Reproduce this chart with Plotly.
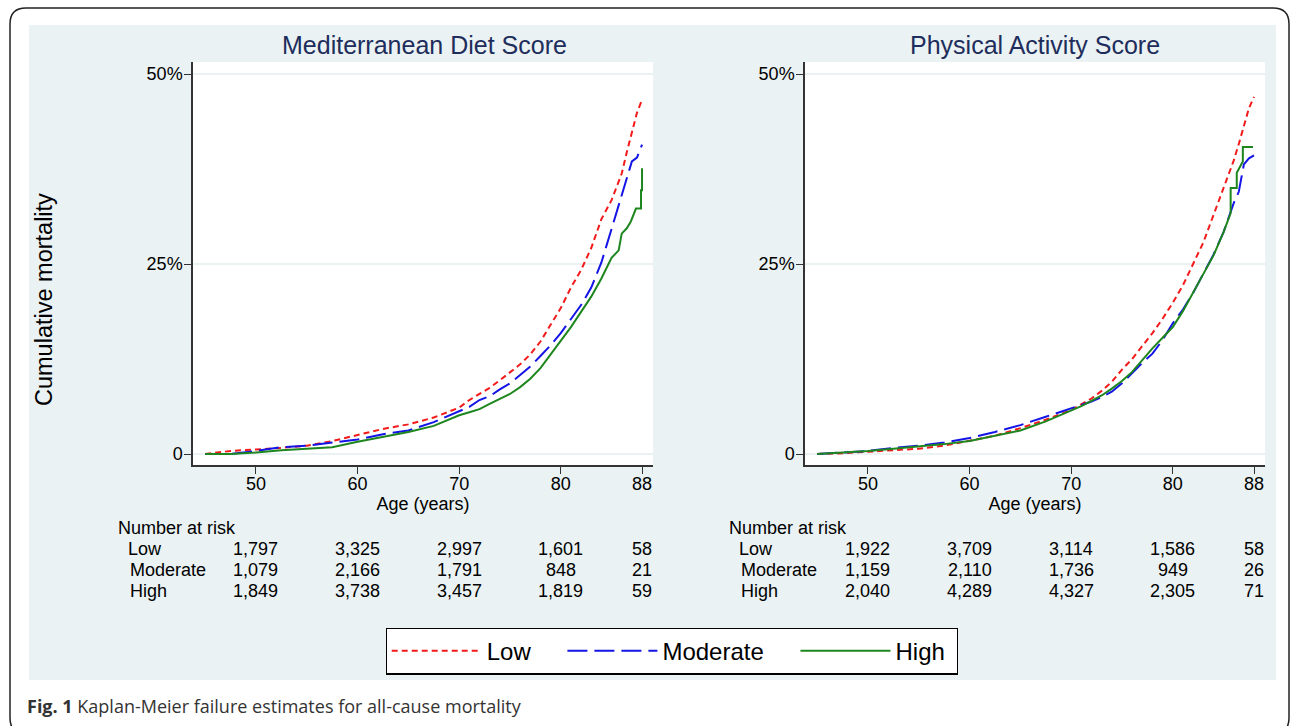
import plotly.graph_objects as go

W, H = 1292, 726

# ---------------- data ----------------
series_names = ["Low", "Moderate", "High"]
series_colors = ["#F21A1A", "#1414E6", "#1E861E"]
series_dash = ["6px,4px", "20px,7px", "solid"]

# Mediterranean Diet Score
med_low_age = [45, 47.5, 50, 52.5, 55, 57.5, 60, 62.5, 65, 67.5, 70, 71, 72, 73, 74, 75, 76, 77, 78, 79, 80, 81, 82, 83, 84, 85, 86, 86.5, 87, 87.5, 88]
med_low_val = [0, 0.004, 0.006, 0.008, 0.011, 0.017, 0.025, 0.033, 0.039, 0.048, 0.061, 0.071, 0.079, 0.087, 0.097, 0.107, 0.118, 0.131, 0.148, 0.170, 0.192, 0.219, 0.242, 0.271, 0.309, 0.334, 0.369, 0.397, 0.425, 0.449, 0.466]

med_mod_age = [45, 47.5, 50, 52.5, 55, 57.5, 60, 62.5, 65, 67.5, 70, 71, 72, 73, 74, 75, 76, 77, 78, 79, 80, 81, 82, 83, 84, 85, 86, 86.5, 87, 87.5, 88]
med_mod_val = [0, 0.0, 0.004, 0.009, 0.011, 0.015, 0.019, 0.026, 0.031, 0.042, 0.056, 0.062, 0.071, 0.076, 0.085, 0.093, 0.104, 0.115, 0.129, 0.143, 0.159, 0.177, 0.196, 0.219, 0.252, 0.296, 0.340, 0.362, 0.385, 0.390, 0.407]

med_high_age = [45, 47.5, 50, 52.5, 55, 57.5, 60, 62.5, 65, 67.5, 70, 71, 72, 73, 74, 75, 76, 77, 78, 79, 80, 81, 82, 83, 84, 85, 85.7, 86, 86.5, 86.9, 87.4, 87.9, 87.9, 88, 88]
med_high_val = [0, 0, 0.002, 0.005, 0.007, 0.009, 0.016, 0.022, 0.029, 0.037, 0.051, 0.055, 0.059, 0.066, 0.072, 0.079, 0.088, 0.099, 0.113, 0.131, 0.148, 0.167, 0.187, 0.207, 0.231, 0.258, 0.268, 0.290, 0.297, 0.306, 0.323, 0.323, 0.347, 0.347, 0.376]

# Physical Activity Score
pa_low_age = [45, 47.5, 50, 52.5, 55, 57.5, 60, 62.5, 65, 67.5, 70, 71, 72, 73, 74, 75, 76, 77, 78, 79, 80, 81, 82, 83, 84, 85, 86, 86.5, 87, 87.5, 88]
pa_low_val = [0, 0.001, 0.003, 0.005, 0.007, 0.011, 0.017, 0.024, 0.034, 0.045, 0.058, 0.065, 0.073, 0.083, 0.095, 0.111, 0.125, 0.142, 0.159, 0.178, 0.199, 0.222, 0.251, 0.278, 0.314, 0.350, 0.386, 0.408, 0.432, 0.455, 0.470]

pa_mod_age = [45, 47.5, 50, 52.5, 55, 57.5, 60, 62.5, 65, 67.5, 70, 71, 72, 73, 74, 75, 76, 77, 78, 79, 80, 81, 82, 83, 84, 85, 86, 86.5, 87, 87.5, 88]
pa_mod_val = [0, 0.002, 0.004, 0.008, 0.011, 0.015, 0.021, 0.029, 0.038, 0.049, 0.060, 0.064, 0.069, 0.075, 0.082, 0.093, 0.107, 0.120, 0.132, 0.150, 0.172, 0.190, 0.212, 0.237, 0.262, 0.292, 0.330, 0.345, 0.381, 0.389, 0.393]

pa_high_age = [45, 47.5, 50, 52.5, 55, 57.5, 60, 62.5, 65, 67.5, 70, 71, 72, 73, 74, 75, 76, 77, 78, 79, 80, 81, 82, 83, 84, 85, 85.7, 85.7, 86.3, 86.3, 86.9, 86.9, 87.9]
pa_high_val = [0, 0.002, 0.004, 0.007, 0.010, 0.013, 0.017, 0.024, 0.031, 0.043, 0.057, 0.063, 0.070, 0.077, 0.086, 0.096, 0.108, 0.124, 0.139, 0.153, 0.167, 0.188, 0.212, 0.236, 0.261, 0.292, 0.317, 0.350, 0.350, 0.370, 0.385, 0.404, 0.404]

# Number at risk table
risk_ages = [50, 60, 70, 80, 88]
med_risk_low = [1797, 3325, 2997, 1601, 58]
med_risk_mod = [1079, 2166, 1791, 848, 21]
med_risk_high = [1849, 3738, 3457, 1819, 59]
pa_risk_low = [1922, 3709, 3114, 1586, 58]
pa_risk_mod = [1159, 2110, 1736, 949, 26]
pa_risk_high = [2040, 4289, 4327, 2305, 71]

panel_titles = ["Mediterranean Diet Score", "Physical Activity Score"]
x_ticks = [50, 60, 70, 80, 88]
y_ticks = [0, 0.25, 0.5]
y_ticktext = ["0", "25%", "50%"]
caption_bold = "Fig. 1"
caption_text = "Kaplan-Meier failure estimates for all-cause mortality"

# ---------------- helpers ----------------
def fx(p):
    return p / W

def fy(p):
    return 1 - p / H

FONT = "Arial, Liberation Sans, sans-serif"
PANEL = "#EAF2F3"
NAVY = "#1E2D5C"
NBSP = "\u00a0"
legend_pad = [NBSP * 4, NBSP * 4, NBSP]

fig = go.Figure()

panels = [
    dict(xa="x", ya="y", data=[(med_low_age, med_low_val), (med_mod_age, med_mod_val), (med_high_age, med_high_val)],
         risk=[med_risk_low, med_risk_mod, med_risk_high]),
    dict(xa="x2", ya="y2", data=[(pa_low_age, pa_low_val), (pa_mod_age, pa_mod_val), (pa_high_age, pa_high_val)],
         risk=[pa_risk_low, pa_risk_mod, pa_risk_high]),
]

for pi, p in enumerate(panels):
    for si, (ages, vals) in enumerate(p["data"]):
        fig.add_trace(go.Scatter(
            x=ages, y=vals, mode="lines", name=series_names[si] + legend_pad[si],
            line=dict(color=series_colors[si], width=2, dash=series_dash[si]),
            xaxis=p["xa"], yaxis=p["ya"], showlegend=(pi == 0),
            hoverinfo="skip",
        ))

# layout geometry (pixels)
left_dom = [fx(193), fx(653)]
right_dom = [fx(805), fx(1265)]
y_dom = [fy(465), fy(62)]
y_range = [(454 - 465) / 760, (454 - 62) / 760]
x_range = [43.8, 89.08]

axis_common = dict(
    range=x_range, tickvals=x_ticks, ticks="outside", ticklen=7, tickwidth=1.3,
    tickcolor="#333", showline=True, linecolor="#333", linewidth=1.5,
    showgrid=False, zeroline=False, tickfont=dict(family=FONT, size=18, color="black"),
    ticklabelstandoff=-5,
    title=dict(text="Age (years)", font=dict(family=FONT, size=18, color="black"), standoff=4),
)
yaxis_common = dict(
    range=y_range, tickvals=y_ticks, ticktext=y_ticktext, ticks="outside", ticklen=7,
    tickwidth=1.3, tickcolor="#333", showline=True, linecolor="#333", linewidth=1.5,
    showgrid=True, gridcolor=PANEL, gridwidth=1.5, zeroline=False, ticklabelstandoff=-2,
    tickfont=dict(family=FONT, size=18, color="black"),
)

fig.update_layout(
    width=W, height=H, margin=dict(l=0, r=0, t=0, b=0),
    paper_bgcolor="white", plot_bgcolor="white",
    xaxis=dict(domain=left_dom, anchor="y", **axis_common),
    yaxis=dict(domain=y_dom, anchor="x", **yaxis_common),
    xaxis2=dict(domain=right_dom, anchor="y2", **axis_common),
    yaxis2=dict(domain=y_dom, anchor="x2", **yaxis_common),
    legend=dict(
        orientation="h", x=fx(672), xanchor="center", y=fy(651), yanchor="middle",
        bordercolor="black", borderwidth=1.2, bgcolor="white",
        font=dict(family=FONT, size=24, color="black"), itemwidth=90,
        traceorder="normal",
    ),
)

shapes = []
# light panel
shapes.append(dict(type="rect", xref="paper", yref="paper", x0=fx(29), x1=fx(1276), y0=fy(680), y1=fy(25),
                   fillcolor=PANEL, line=dict(width=0), layer="below"))
# white plot regions
for xa, ya in [("x", "y"), ("x2", "y2")]:
    shapes.append(dict(type="rect", xref=xa + " domain", yref=ya + " domain", x0=0, x1=1, y0=0, y1=1,
                       fillcolor="white", line=dict(width=0), layer="below"))
# rounded outer frame
x0, x1, y0, y1, r = 10, 1289, 8, 734, 16
path = (f"M {fx(x0 + r)},{fy(y0)} L {fx(x1 - r)},{fy(y0)} Q {fx(x1)},{fy(y0)} {fx(x1)},{fy(y0 + r)} "
        f"L {fx(x1)},{fy(y1 - r)} Q {fx(x1)},{fy(y1)} {fx(x1 - r)},{fy(y1)} "
        f"L {fx(x0 + r)},{fy(y1)} Q {fx(x0)},{fy(y1)} {fx(x0)},{fy(y1 - r)} "
        f"L {fx(x0)},{fy(y0 + r)} Q {fx(x0)},{fy(y0)} {fx(x0 + r)},{fy(y0)} Z")
shapes.append(dict(type="path", xref="paper", yref="paper", path=path, line=dict(color="#222", width=1.5),
                   fillcolor="rgba(0,0,0,0)", layer="above"))
fig.update_layout(shapes=shapes)

ann = []
# panel titles
for t, cx in zip(panel_titles, [424, 1035]):
    ann.append(dict(text=t, x=fx(cx), y=fy(45), xref="paper", yref="paper", showarrow=False,
                    xanchor="center", yanchor="middle", font=dict(family=FONT, size=25, color=NAVY)))
# y title
ann.append(dict(text="Cumulative mortality", x=fx(44), y=fy(300), xref="paper", yref="paper", showarrow=False,
                textangle=-90, xanchor="center", yanchor="middle", font=dict(family=FONT, size=23.5, color="black")))
# number at risk tables
row_y = [549, 570, 591]
for pi, (p, left) in enumerate(zip(panels, [116, 727])):
    ann.append(dict(text="Number at risk", x=fx(left), y=fy(528), xref="paper", yref="paper", showarrow=False,
                    xanchor="left", yanchor="middle", font=dict(family=FONT, size=18, color="black")))
    for ri, (nm, ry) in enumerate(zip(series_names, row_y)):
        lx = left + (10 if ri == 0 else 12)
        ann.append(dict(text=nm, x=fx(lx), y=fy(ry), xref="paper", yref="paper", showarrow=False,
                        xanchor="left", yanchor="middle", font=dict(family=FONT, size=18, color="black")))
        for a, n in zip(risk_ages, p["risk"][ri]):
            ann.append(dict(text=f"{n:,}", x=a, y=fy(ry), xref=p["xa"], yref="paper", showarrow=False,
                            xanchor="center", yanchor="middle", font=dict(family=FONT, size=18, color="black")))
# caption
ann.append(dict(text=f"<b>{caption_bold}</b> {caption_text}", x=fx(25), y=fy(706), xref="paper", yref="paper",
                showarrow=False, xanchor="left", yanchor="middle",
                font=dict(family="Open Sans, Noto Sans, sans-serif", size=18, color="#333")))
fig.update_layout(annotations=ann)

fig.write_html("out.html", config={"displayModeBar": False},
               post_script="document.body.style.margin='0px';document.body.style.overflow='hidden';")
